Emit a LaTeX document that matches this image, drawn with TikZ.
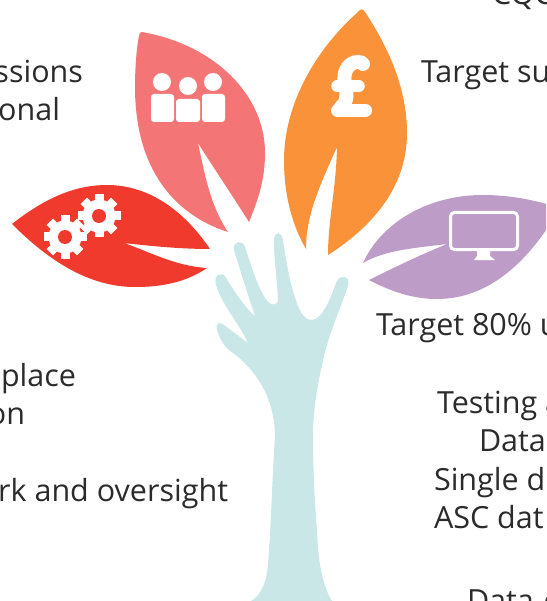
\documentclass[tikz,border=0pt]{standalone}
\usepackage{fontspec}
\setmainfont{Open Sans}
\definecolor{leafred}{HTML}{EF3A2D}
\definecolor{leafpink}{HTML}{F47576}
\definecolor{leaforange}{HTML}{F99239}
\definecolor{leafpurple}{HTML}{BE9CC8}
\definecolor{treeblue}{HTML}{CAE7E8}
\definecolor{inktext}{HTML}{2B2B2B}
\tikzset{
  lbl/.style={inner sep=0pt,outer sep=0pt,text=inktext,font=\fontsize{30.5}{38}\selectfont},
  lblw/.style={lbl,anchor=base west},
  lble/.style={lbl,anchor=base east},
  icon/.style={fill=white,draw=none}
}
\begin{document}
\begin{tikzpicture}[x=1pt,y=-1pt]
\useasboundingbox (0,0) rectangle (546,601);
\clip (0,0) rectangle (546,601);
% tree
\fill[treeblue] (251,601) .. controls (262,595) and (267,580) .. (268,563)
 .. controls (271,530) and (272,480) .. (275,437)
 .. controls (275,405) and (262,375) .. (233,353)
 .. controls (225,348) and (220,340) .. (217,330)
 .. controls (215,323) and (220,321) .. (224,325) -- (248,343)
 .. controls (240,325) and (222,305) .. (216,285)
 .. controls (213,275) and (222,270) .. (226,278)
 .. controls (235,292) and (245,308) .. (255,316)
 .. controls (248,295) and (240,270) .. (234,250)
 .. controls (232,241) and (243,239) .. (245,247)
 .. controls (250,262) and (258,290) .. (268,302)
 .. controls (272,306) and (278,305) .. (278,300)
 .. controls (277,280) and (274,260) .. (274,240)
 .. controls (274,231) and (282,231) .. (283,240)
 .. controls (286,260) and (290,285) .. (296,300)
 .. controls (300,315) and (307,320) .. (311,320)
 .. controls (322,320) and (330,300) .. (336,283)
 .. controls (339,274) and (351,275) .. (348,286)
 .. controls (340,310) and (328,335) .. (322,365)
 .. controls (315,395) and (313,420) .. (313,437)
 .. controls (313,470) and (315,510) .. (317,530)
 .. controls (318,560) and (322,585) .. (332,601) -- cycle;
% red leaf
\fill[leafred] (12,224) .. controls (45,198) and (75,185) .. (107,185)
 .. controls (150,185) and (185,212) .. (210,249)
 .. controls (180,249) and (150,246) .. (124,243)
 .. controls (150,252) and (175,266) .. (207,268)
 .. controls (185,283) and (160,287) .. (135,287)
 .. controls (90,287) and (50,262) .. (12,224) -- cycle;
% pink leaf
\fill[leafpink] (142,32) .. controls (215,45) and (265,95) .. (265,153)
 .. controls (265,180) and (258,200) .. (249,222)
 .. controls (232,195) and (215,170) .. (198,143)
 .. controls (205,175) and (210,205) .. (228,232)
 .. controls (175,215) and (135,170) .. (135,87)
 .. controls (135,65) and (137,45) .. (139,36)
 .. controls (139.5,33) and (140,32) .. (142,32) -- cycle;
% orange leaf
\fill[leaforange] (358,12) .. controls (360,9) and (363,8) .. (365,12)
 .. controls (390,50) and (407,90) .. (407,133)
 .. controls (407,185) and (375,225) .. (328,255)
 .. controls (328,220) and (336,190) .. (337,147)
 .. controls (320,185) and (306,215) .. (306,249)
 .. controls (292,225) and (284,195) .. (284,160)
 .. controls (284,105) and (315,50) .. (358,12) -- cycle;
% purple leaf
\fill[leafpurple] (363,263) .. controls (380,225) and (425,195) .. (483,195)
 .. controls (510,195) and (535,200) .. (560,208)
 .. controls (530,260) and (490,299) .. (437,299)
 .. controls (412,299) and (390,291) .. (369,280)
 .. controls (395,267) and (420,255) .. (447,244)
 .. controls (415,248) and (385,250) .. (363,263) -- cycle;
% gears
\foreach \cx/\cy in {99/216,65/237}{
  \begin{scope}[shift={(\cx,\cy)}]
    \fill[white] (0,0) circle[radius=16.5];
    \foreach \a in {0,45,...,315}{
      \fill[white,rotate=\a] (-4.5,-16) rectangle (4.5,-21.5);
    }
    \fill[leafred] (0,0) circle[radius=7];
  \end{scope}
}
% people
\foreach \px/\py in {162/82,188/86,213/82}{\fill[icon] (\px,\py) circle[radius=9];}
\fill[icon,rounded corners=3pt] (151,122) -- (151,94) -- (174,94) -- (174,122) -- cycle;
\fill[icon,rounded corners=3pt] (176,122) -- (176,99) -- (200,99) -- (200,122) -- cycle;
\fill[icon,rounded corners=3pt] (202,122) -- (202,94) -- (225,94) -- (225,122) -- cycle;
% pound icon
\draw[white,line width=13pt,line cap=round,line join=round] (337.5,110.5) -- (365.5,110.5);
\draw[white,line width=11.5pt,line cap=round] (337,86) -- (359,86);
\draw[white,line width=14pt,line cap=round] (341,107) .. controls (348,102) and (347,92) .. (345,84) .. controls (342,70) and (350,62) .. (358,62) .. controls (361,62) and (362,63) .. (363,64);
% monitor
\draw[white,line width=3pt,rounded corners=4pt] (450.5,212.5) rectangle (517.5,249.5);
\fill[icon] (477,251) -- (490,251) -- (490,256) -- (495,260) -- (474,260) -- (477,256) -- cycle;
% texts
\node[lble] (t1) at (83,83) {ssions};
\node[lble] (t2) at (60,121) {onal};
\node[lble] (t3) at (76,386) {place};
\node[lble] (t4) at (25,424) {on};
\node[lble] (t5) at (228,501) {rk and oversight};
\node[lblw] (t6) at (492,5) {CQC};
\node[lblw] (t7) at (421,83) {Target su};
\node[lblw] (t8) at (376,335) {Target 80\% u};
\node[lblw] (t9) at (437,413) {Testing a};
\node[lblw] (t10) at (479,451) {Data};
\node[lblw] (t11) at (434,490) {Single d};
\node[lblw] (t12) at (434,528) {ASC dat};
\node[lblw] (t13) at (467,611) {Data-d};
\end{tikzpicture}
\end{document}
